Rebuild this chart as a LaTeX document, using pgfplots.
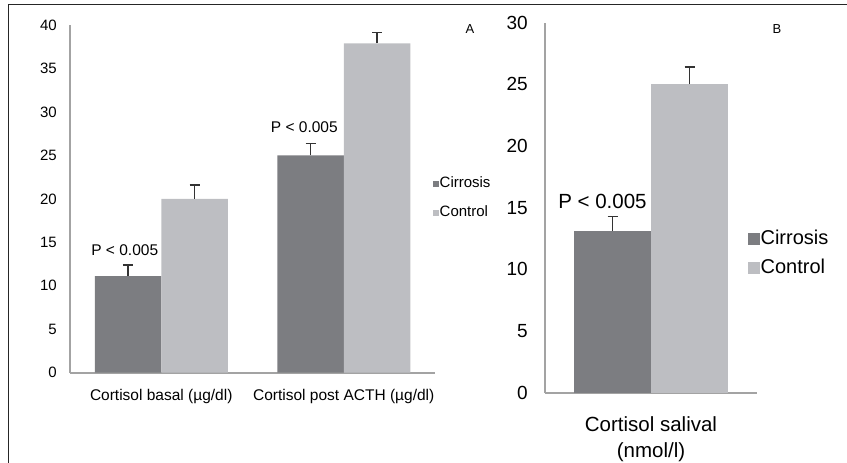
\documentclass[border=0pt]{standalone}
\usepackage{fontspec}
\setmainfont{Liberation Sans}
\usepackage{pgfplots}
\usepackage{pgfplotstable}
\pgfplotsset{compat=1.18}

\definecolor{darkbar}{HTML}{7C7D81}
\definecolor{lightbar}{HTML}{BDBEC2}
\definecolor{axisgray}{HTML}{A3A3A3}
\definecolor{errc}{HTML}{333333}

\pgfplotstableread{
x cir cirerr con conerr
0 11.1 1.3 20.0 1.6
1 25.0 1.4 37.9 1.2
}\tabA
\pgfplotstableread{
x cir cirerr con conerr
0 13.1 1.2 25.0 1.4
}\tabB

\pgfplotsset{
  mybars/.style={
    scale only axis,
    enlargelimits=false,
    axis x line=bottom, axis y line=left,
    axis line style={-, draw=axisgray, line width=2pt},
    major tick length=0pt,
    ymin=0, ybar=0pt,
    xtick=data,
    /pgf/number format/assume math mode=true,
    legend style={draw=none, fill=none, legend cell align=left,
      inner sep=0pt, outer sep=0pt},
  },
  barerr/.style={
    /pgfplots/error bars/y dir=plus, /pgfplots/error bars/y explicit,
    /pgfplots/error bars/error mark=|,
    /pgfplots/error bars/error bar style={draw=errc, line width=1.3pt},
    /pgfplots/error bars/error mark options={draw=errc, line width=1.3pt, mark size=5pt},
  },
}

\begin{document}
\begin{tikzpicture}
\path[use as bounding box] (0pt,0pt) rectangle (847pt,463pt);
\draw[line width=1.3pt, black!85] (8.3pt,0pt) -- (8.3pt,458.3pt) -- (847pt,458.3pt);

% Panel A
\begin{axis}[mybars,
  at={(70pt,90.3pt)}, anchor=south west,
  width=365pt, height=347.7pt,
  xmin=-0.5, xmax=1.5, ymax=40,
  ytick={0,5,...,40},
  bar width=66.5pt,
  xticklabels={Cortisol basal (µg/dl), Cortisol post ACTH  (µg/dl)},
  yticklabel style={font=\fontsize{15}{17}\selectfont, anchor=east, inner sep=0pt, xshift=-13pt},
  xticklabel style={font=\fontsize{15.5}{17}\selectfont, anchor=north, inner sep=0pt, yshift=-16pt},
  legend style={at={(0.995,0.502)}, anchor=west,
    font=\fontsize{15}{17}\selectfont, row sep=15pt,
    nodes={text height=10pt, text depth=3pt, inner sep=0.5pt}},
]
\addplot[fill=darkbar, draw=none,
  legend image code/.code={\fill[darkbar] (0pt,-3pt) rectangle (6pt,3pt);}, barerr]
  table[x=x, y=cir, y error=cirerr] {\tabA};
\addlegendentry{Cirrosis}
\addplot[fill=lightbar, draw=none,
  legend image code/.code={\fill[lightbar] (0pt,-3pt) rectangle (6pt,3pt);}, barerr]
  table[x=x, y=con, y error=conerr] {\tabA};
\addlegendentry{Control}
\node[font=\fontsize{15.5}{17}\selectfont] at (axis cs:-0.2,14.1) {P < 0.005};
\node[font=\fontsize{15.5}{17}\selectfont] at (axis cs:0.784,28.2) {P < 0.005};
\end{axis}

% Panel B
\begin{axis}[mybars,
  at={(545pt,70.3pt)}, anchor=south west,
  width=212pt, height=370pt,
  xmin=-0.5, xmax=0.5, ymax=30,
  ytick={0,5,...,30},
  bar width=77pt,
  xticklabels={{Cortisol salival\\(nmol/l)}},
  yticklabel style={font=\fontsize{19}{21}\selectfont, anchor=east, inner sep=0pt, xshift=-17pt},
  xticklabel style={font=\fontsize{20.5}{26}\selectfont, align=center, anchor=north, inner sep=0pt, yshift=-24pt},
  legend style={at={(0.958,0.375)}, anchor=west,
    font=\fontsize{20}{24}\selectfont, row sep=9pt,
    nodes={text height=15pt, text depth=4pt, inner sep=0.5pt}},
]
\addplot[fill=darkbar, draw=none,
  legend image code/.code={\fill[darkbar] (0pt,-6pt) rectangle (12pt,6pt);}, barerr]
  table[x=x, y=cir, y error=cirerr] {\tabB};
\addlegendentry{Cirrosis}
\addplot[fill=lightbar, draw=none,
  legend image code/.code={\fill[lightbar] (0pt,-6pt) rectangle (12pt,6pt);}, barerr]
  table[x=x, y=con, y error=conerr] {\tabB};
\addlegendentry{Control}
\node[font=\fontsize{20.5}{24}\selectfont] at (axis cs:-0.229,15.47) {P < 0.005};
\end{axis}

\node[font=\fontsize{13}{15}\selectfont] at (470pt,434pt) {A};
\node[font=\fontsize{13}{15}\selectfont] at (777pt,434pt) {B};
\end{tikzpicture}
\end{document}
